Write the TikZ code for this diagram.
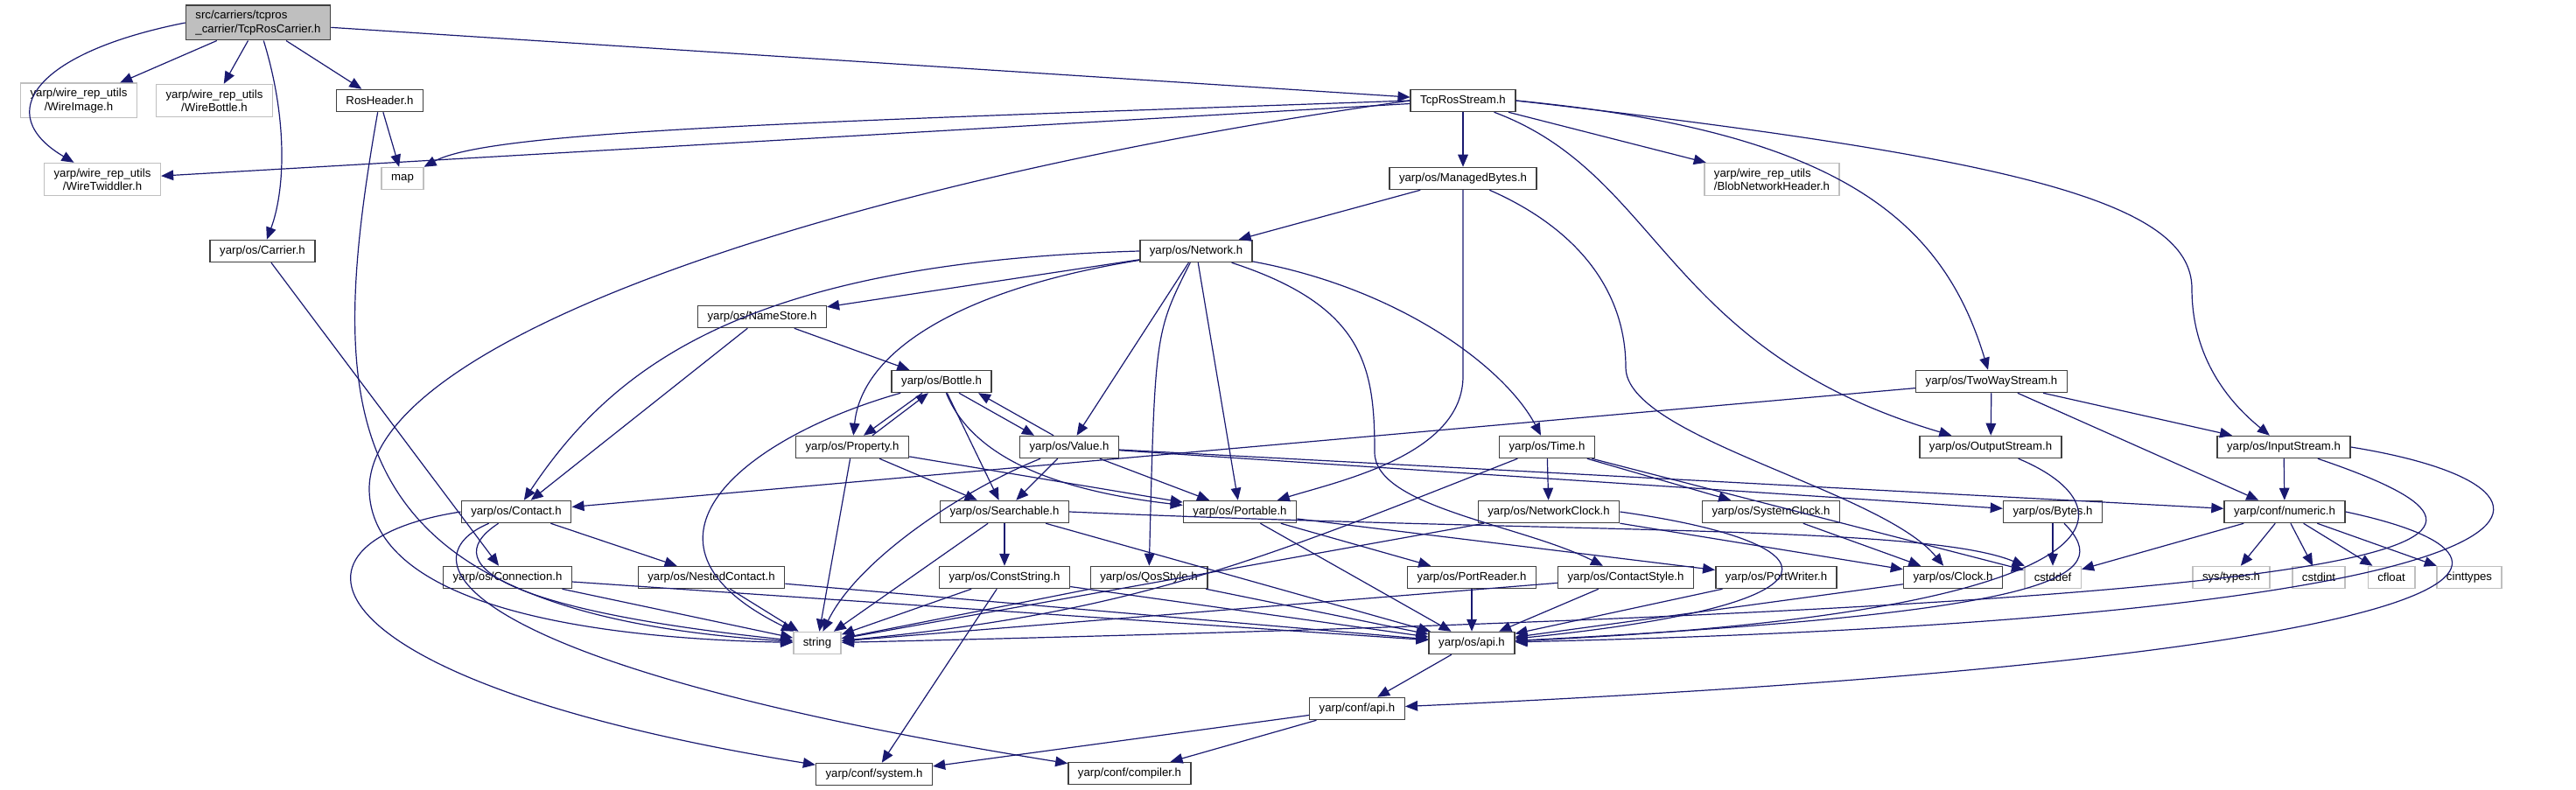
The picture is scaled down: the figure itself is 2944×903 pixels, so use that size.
\documentclass[tikz,border=0pt]{standalone}
\usepackage{fontspec}
\setmainfont{Liberation Sans}
\usepackage{xcolor}
\usetikzlibrary{arrows.meta}

\definecolor{edgeblue}{HTML}{191970}
\definecolor{boxgray}{HTML}{BFBFBF}

\tikzset{
  hdr/.style={draw=black!75, line width=0.75pt, minimum height=12.5pt, inner xsep=5.5pt,
    inner ysep=3pt, font=\fontsize{6.6}{7.6}\selectfont, align=center},
  ext/.style={hdr, draw=boxgray},
  rootbox/.style={hdr, fill=boxgray, align=left},
  dep/.style={draw=edgeblue, line width=0.6pt, -{Triangle[length=7pt,width=5.8pt]}},
}

\begin{document}
\begin{tikzpicture}[x=0.5pt, y=-0.5pt]
        \useasboundingbox (0,0) rectangle (2944,903);

        % Top rows
        \node[rootbox] (root) at (295,26) {src/carriers/tcpros\\\_carrier/TcpRosCarrier.h};
        \node[ext] (wimg) at (90,115) {yarp/wire\_rep\_utils\\/WireImage.h};
        \node[ext] (wbot) at (245,115) {yarp/wire\_rep\_utils\\/WireBottle.h};
        \node[hdr] (roshdr) at (434,115) {RosHeader.h};
        \node[hdr] (tcpstr) at (1672,115) {TcpRosStream.h};
        \node[ext] (wtwid) at (117,205) {yarp/wire\_rep\_utils\\/WireTwiddler.h};
        \node[ext] (map) at (460,204) {map};
        \node[hdr] (mbytes) at (1672,204) {yarp/os/ManagedBytes.h};
        \node[ext, align=left] (blob) at (2025,205) {yarp/wire\_rep\_utils\\/BlobNetworkHeader.h};
        \node[hdr] (carrier) at (300,287) {yarp/os/Carrier.h};
        \node[hdr] (network) at (1367,287) {yarp/os/Network.h};
        \node[hdr] (namestore) at (871,362) {yarp/os/NameStore.h};
        \node[hdr] (bottle) at (1076,436) {yarp/os/Bottle.h};
        \node[hdr] (twoway) at (2276,436) {yarp/os/TwoWayStream.h};

        % Middle rows
        \node[hdr] (property) at (974,511) {yarp/os/Property.h};
        \node[hdr] (value) at (1222,511) {yarp/os/Value.h};
        \node[hdr] (time) at (1768,511) {yarp/os/Time.h};
        \node[hdr] (outstr) at (2275,511) {yarp/os/OutputStream.h};
        \node[hdr] (instr) at (2610,511) {yarp/os/InputStream.h};
        \node[hdr] (contact) at (590,585) {yarp/os/Contact.h};
        \node[hdr] (search) at (1148,585) {yarp/os/Searchable.h};
        \node[hdr] (portable) at (1417,585) {yarp/os/Portable.h};
        \node[hdr] (netclock) at (1770,585) {yarp/os/NetworkClock.h};
        \node[hdr] (sysclock) at (2024,585) {yarp/os/SystemClock.h};
        \node[hdr] (bytes) at (2346,585) {yarp/os/Bytes.h};
        \node[hdr] (numeric) at (2611,585) {yarp/conf/numeric.h};

        % Lower rows
        \node[hdr] (connection) at (580,660) {yarp/os/Connection.h};
        \node[hdr] (nested) at (813,660) {yarp/os/NestedContact.h};
        \node[hdr] (conststr) at (1148,660) {yarp/os/ConstString.h};
        \node[hdr] (qos) at (1313,660) {yarp/os/QosStyle.h};
        \node[hdr] (preader) at (1682,660) {yarp/os/PortReader.h};
        \node[hdr] (cstyle) at (1858,660) {yarp/os/ContactStyle.h};
        \node[hdr] (pwriter) at (2030,660) {yarp/os/PortWriter.h};
        \node[hdr] (clock) at (2232,660) {yarp/os/Clock.h};
        \node[ext] (cstddef) at (2346,660) {cstddef};
        \node[ext] (systypes) at (2550,660) {sys/types.h};
        \node[ext] (cstdint) at (2650,660) {cstdint};
        \node[ext] (cfloat) at (2733,660) {cfloat};
        \node[ext] (cinttypes) at (2822,660) {cinttypes};
        \node[ext] (string) at (934,735) {string};
        \node[hdr] (osapi) at (1682,735) {yarp/os/api.h};
        \node[hdr] (confapi) at (1551,810) {yarp/conf/api.h};
        \node[hdr] (confsys) at (999,885) {yarp/conf/system.h};
        \node[hdr] (confcomp) at (1291,884) {yarp/conf/compiler.h};

        % Straight includes
        \foreach \a/\b in {root/wimg, root/wbot, root/roshdr, root/tcpstr, roshdr/map,
            tcpstr/wtwid, tcpstr/mbytes, tcpstr/blob, carrier/connection, mbytes/network,
            network/namestore, network/value, network/portable, namestore/contact, namestore/bottle,
            bottle/search, property/search, property/portable, property/string,
            value/search, value/portable, value/numeric, value/bytes,
            twoway/contact, twoway/outstr, twoway/instr, twoway/numeric,
            time/netclock, time/sysclock, time/cstddef, instr/numeric, contact/nested,
            search/conststr, search/string, search/osapi,
            portable/preader, portable/pwriter, portable/osapi,
            netclock/clock, netclock/string, sysclock/clock, bytes/cstddef,
            numeric/cstddef, numeric/systypes, numeric/cstdint, numeric/cfloat, numeric/cinttypes,
            connection/string, connection/osapi, nested/string, nested/osapi,
            conststr/string, conststr/osapi, conststr/confsys, qos/string, qos/osapi,
            preader/osapi, cstyle/string, cstyle/osapi, pwriter/osapi, clock/osapi,
            osapi/confapi, confapi/confsys, confapi/confcomp}
            \draw[dep] (\a) -- (\b);

        % Bottle <-> Property, Bottle <-> Value
        \draw[dep] ([xshift=-11pt]bottle.south) -- ([xshift=6.5pt]property.north);
        \draw[dep] ([xshift=11.5pt]property.north) -- ([xshift=-7.5pt]bottle.south);
        \draw[dep] ([xshift=10pt]bottle.south) -- ([xshift=-20pt]value.north);
        \draw[dep] ([xshift=-9pt]value.north) -- ([xshift=21pt]bottle.south);

        % Curved includes
        \draw[dep] (root.west) .. controls (40,60) and (-10,130) .. (wtwid);
        \draw[dep] (root) .. controls (330,140) and (325,220) .. (carrier);
        \draw[dep] (roshdr) .. controls (370,480) and (380,700) .. (string);
        \draw[dep] (tcpstr.west) .. controls (1000,200) and (420,380) .. (422,560)
            .. controls (425,700) and (700,730) .. (string);
        \draw[dep] (tcpstr.west) .. controls (900,140) and (560,150) .. (map);
        \draw[dep] (tcpstr) .. controls (1900,200) and (1900,400) .. (outstr);
        \draw[dep] (tcpstr.east) .. controls (2100,150) and (2220,250) .. (twoway);
        \draw[dep] (tcpstr.east) .. controls (2300,180) and (2505,230) .. (2505,330)
            .. controls (2505,420) and (2560,470) .. (instr);
        \draw[dep] (mbytes.south) -- (1672,430) .. controls (1672,520) and (1530,550) .. (portable);
        \draw[dep] (mbytes) .. controls (1800,260) and (1858,330) .. (1858,420)
            .. controls (1858,500) and (2150,560) .. (clock);
        \draw[dep] (network.west) .. controls (850,300) and (700,420) .. (contact);
        \draw[dep] (network) .. controls (1100,330) and (985,400) .. (property);
        \draw[dep] (network) .. controls (1320,380) .. (qos);
        \draw[dep] (network) .. controls (1560,350) and (1571,420) .. (1571,517)
            .. controls (1571,580) and (1740,600) .. (cstyle);
        \draw[dep] (network) .. controls (1600,330) and (1720,420) .. (time);
        \draw[dep] (bottle) .. controls (850,500) and (700,620) .. (string);
        \draw[dep] (bottle) .. controls (1110,520) and (1200,560) .. (portable);
        \draw[dep] (value) .. controls (1100,560) and (980,640) .. (string);
        \draw[dep] (time) .. controls (1440,640) and (1300,700) .. (string);
        \draw[dep] (netclock.east) .. controls (2100,620) and (2130,690) .. (osapi);
        \draw[dep] (bytes) .. controls (2420,660) and (2350,700) .. (osapi);
        \draw[dep] (outstr) .. controls (2440,580) and (2440,700) .. (osapi);
        \draw[dep] (instr.east) .. controls (2990,560) and (2970,705) .. (osapi);
        \draw[dep] (instr) .. controls (2930,620) and (2870,690) .. (string);
        \draw[dep] (numeric.east) .. controls (2940,640) and (2870,750) .. (confapi);
        \draw[dep] (search.east) .. controls (1800,610) and (2200,600) .. (cstddef);
        \draw[dep] (contact.west) .. controls (300,620) and (350,780) .. (confsys);
        \draw[dep] (contact) .. controls (460,640) and (520,760) .. (confcomp);
        \draw[dep] (contact) .. controls (490,650) and (600,700) .. (string);

\end{tikzpicture}
\end{document}
